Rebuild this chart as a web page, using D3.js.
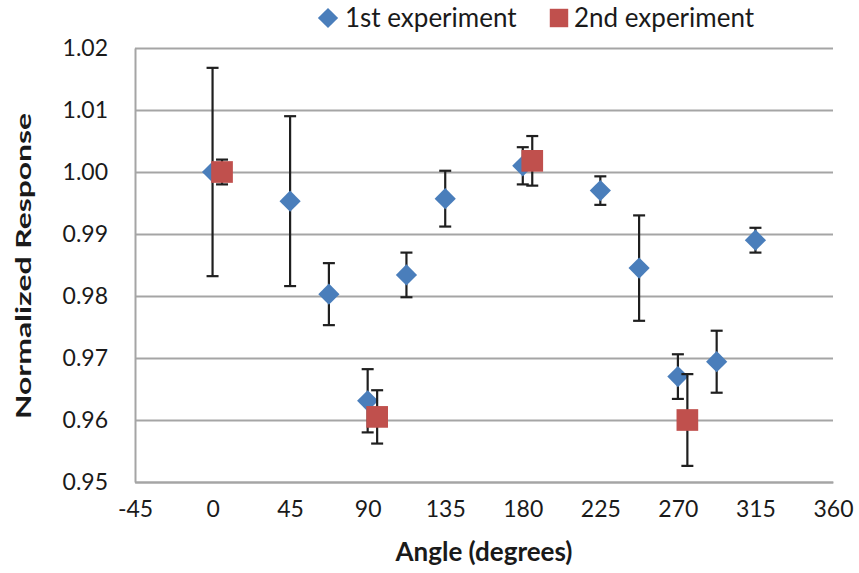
<!DOCTYPE html>
<html>
<head>
<meta charset="utf-8">
<script src="https://cdn.jsdelivr.net/npm/d3@7"></script>
<style>
  html, body { margin: 0; padding: 0; background: #fff; }
  #chart { width: 859px; height: 573px; }
  text { font-family: Lato, "Open Sans", sans-serif; fill: #1a1a1a; }
</style>
</head>
<body>
<div id="chart"></div>
<script>
// 1st experiment (blue diamonds)
const angles1 = [0, 45, 67.5, 90, 112.5, 135, 180, 225, 247.5, 270, 292.5, 315];
const values1 = [1.0000, 0.9953, 0.9803, 0.9631, 0.9834, 0.9957, 1.0010, 0.9970, 0.9845, 0.9670, 0.9694, 0.9890];
const errors1 = [0.0168, 0.0137, 0.0050, 0.0051, 0.0036, 0.0045, 0.0030, 0.0023, 0.0085, 0.0036, 0.0050, 0.0020];

// 2nd experiment (red squares)
const angles2 = [5.5, 95.5, 185.5, 275.5];
const values2 = [1.0000, 0.9605, 1.0018, 0.9600];
const errors2 = [0.0020, 0.0043, 0.0040, 0.0074];

const xTicks = [-45, 0, 45, 90, 135, 180, 225, 270, 315, 360];
const yTicks = [0.95, 0.96, 0.97, 0.98, 0.99, 1.00, 1.01, 1.02];
const seriesNames = ['1st experiment', '2nd experiment'];

const chart = {};

chart.create = function(config){
  this.config = config;
  this.config.margin = {top: 48, right: 26, bottom: 91, left: 135};
  this.config.width_svg = 859;
  this.config.height_svg = 573;
  this.config.svg = d3.select(`#${this.config.target}`)
                      .append('svg')
                      .attr('width', this.config.width_svg)
                      .attr('height', this.config.height_svg);
}

chart.update = function(){
  let margin = this.config.margin,
      width_svg = this.config.width_svg,
      height_svg = this.config.height_svg,
      svg = this.config.svg.append('g').attr('id', 'g_container');

  let xScale = d3.scaleLinear()
                .domain([-45, 360])
                .range([margin.left, width_svg - margin.right]);
  let yScale = d3.scaleLinear()
                .domain([0.95, 1.02])
                .range([height_svg - margin.bottom, margin.top]);

  // 菱形 = 旋转45度的正方形
  let series = [
    {name: seriesNames[0], color: '#4a7ebb', rotate: 45, size: 225, legendSize: 205,
     data: angles1.map((a, i) => ({x: a, y: values1[i], e: errors1[i]}))},
    {name: seriesNames[1], color: '#c0504d', rotate: 0, size: 470, legendSize: 340,
     data: angles2.map((a, i) => ({x: a, y: values2[i], e: errors2[i]}))}
  ];

  // 横向网格线
  svg.append('g')
    .attr('id', 'g_grid')
    .attr('transform', `translate(${margin.left}, 0)`)
    .call(d3.axisLeft(yScale).tickValues(yTicks)
            .tickSize(-(width_svg - margin.left - margin.right)).tickFormat(''))
    .call(g => g.select('.domain').remove())
    .call(g => g.selectAll('.tick line')
                .attr('stroke', '#a5a5a5')
                .attr('stroke-width', 2));

  // y axis
  svg.append('g')
    .attr('id', 'g_yAxis')
    .attr('transform', `translate(${margin.left}, 0)`)
    .call(d3.axisLeft(yScale).tickValues(yTicks).tickFormat(d3.format('.2f'))
            .tickSize(0).tickPadding(27))
    .call(g => g.select('.domain')
                .attr('stroke', '#a5a5a5')
                .attr('stroke-width', 2))
    .call(g => g.selectAll('.tick text')
                .attr('font-size', 23)
                .attr('font-family', 'Lato, sans-serif')
                .attr('fill', '#1a1a1a'));

  // x axis
  svg.append('g')
    .attr('id', 'g_xAxis')
    .attr('transform', `translate(0, ${height_svg - margin.bottom})`)
    .call(d3.axisBottom(xScale).tickValues(xTicks).tickFormat(d => `${d}`)
            .tickSize(0).tickPadding(19))
    .call(g => g.select('.domain')
                .attr('stroke', '#a5a5a5')
                .attr('stroke-width', 2))
    .call(g => g.selectAll('.tick text')
                .attr('font-size', 23)
                .attr('font-family', 'Lato, sans-serif')
                .attr('fill', '#1a1a1a'));

  // axis titles
  svg.append('text')
    .attr('x', (margin.left + width_svg - margin.right) / 2)
    .attr('y', 561)
    .attr('text-anchor', 'middle')
    .attr('font-size', 26)
    .attr('font-weight', 'bold')
    .text('Angle (degrees)');

  svg.append('text')
    .attr('transform', 'translate(31, 266) rotate(-90)')
    .attr('text-anchor', 'middle')
    .attr('font-size', 21)
    .attr('font-weight', 'bold')
    .attr('textLength', 306)
    .attr('lengthAdjust', 'spacingAndGlyphs')
    .text('Normalized Response');

  // error bars + markers, one series after another
  series.forEach(s => {
    let g = svg.append('g').attr('class', 'series');
    let bars = g.append('g')
                .attr('stroke', '#1f1f1f')
                .attr('stroke-width', 2.2)
              .selectAll('g')
              .data(s.data)
              .enter().append('g');
    bars.append('line')
        .attr('x1', d => xScale(d.x)).attr('x2', d => xScale(d.x))
        .attr('y1', d => yScale(d.y + d.e)).attr('y2', d => yScale(d.y - d.e));
    bars.append('line')
        .attr('x1', d => xScale(d.x) - 6).attr('x2', d => xScale(d.x) + 6)
        .attr('y1', d => yScale(d.y + d.e)).attr('y2', d => yScale(d.y + d.e));
    bars.append('line')
        .attr('x1', d => xScale(d.x) - 6).attr('x2', d => xScale(d.x) + 6)
        .attr('y1', d => yScale(d.y - d.e)).attr('y2', d => yScale(d.y - d.e));

    g.append('g')
      .selectAll('path')
      .data(s.data)
      .enter().append('path')
              .attr('transform', d => `translate(${xScale(d.x)}, ${yScale(d.y)}) rotate(${s.rotate})`)
              .attr('d', d3.symbol().type(d3.symbolSquare).size(s.size))
              .attr('fill', s.color);
  });

  // legend
  let legend = svg.append('g').attr('id', 'g_legend');
  let legendPos = [{x: 328, tx: 345}, {x: 559, tx: 574}];
  series.forEach((s, i) => {
    legend.append('path')
          .attr('transform', `translate(${legendPos[i].x}, 18) rotate(${s.rotate})`)
          .attr('d', d3.symbol().type(d3.symbolSquare).size(s.legendSize))
          .attr('fill', s.color);
    legend.append('text')
          .attr('x', legendPos[i].tx)
          .attr('y', 27)
          .attr('font-size', 26)
          .text(s.name);
  });
}

chart.create({target: 'chart'});
chart.update();
</script>
</body>
</html>
